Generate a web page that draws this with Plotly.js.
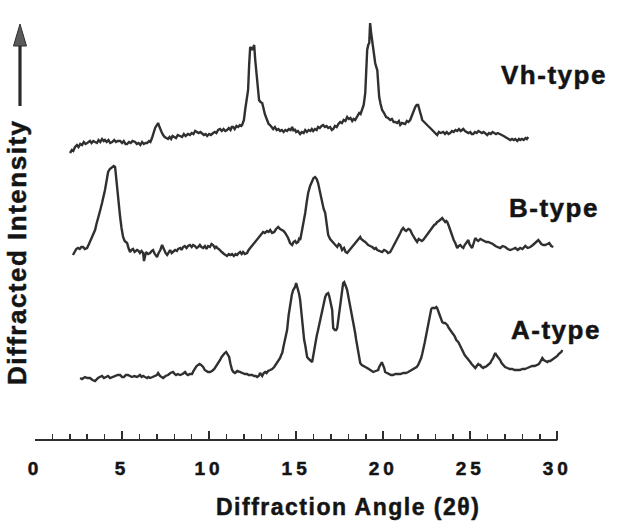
<!DOCTYPE html>
<html>
<head>
<meta charset="utf-8">
<script src="https://cdn.plot.ly/plotly-3.0.1.min.js"></script>
<style>
  html, body { margin: 0; padding: 0; background: #ffffff; }
  #chart { width: 624px; height: 523px; }
  .annotation-text { letter-spacing: 1.5px; stroke: #141414; stroke-width: 0.5px; }
  .xtick text { letter-spacing: 4px; stroke: #141414; stroke-width: 0.5px; }
</style>
</head>
<body>
<div id="chart"></div>
<script>
// ---- data: [2θ (degrees), intensity (arbitrary units above the pattern's own baseline)] ----
const vhPattern = [[2.01,7],[2.12,10],[2.2,9],[2.3,13],[2.41,15],[2.5,13],[2.6,16],[2.7,15],[2.8,18],[2.9,16],[3.0,17],[3.16,19],[3.25,17],[3.35,19],[3.45,18],[3.56,17],[3.65,20],[3.75,18],[3.85,21],[3.95,19],[4.02,20],[4.12,18],[4.22,20],[4.32,17],[4.43,18],[4.55,20],[4.65,18],[4.75,19],[4.89,19],[5.0,17],[5.1,19],[5.2,16],[5.29,16],[5.4,18],[5.5,17],[5.6,19],[5.75,18],[5.85,16],[5.95,17],[6.05,15],[6.15,18],[6.25,16],[6.35,17],[6.44,17],[6.55,19],[6.63,18],[6.72,22],[6.8,27],[6.9,32],[7.0,35],[7.07,37],[7.13,34],[7.18,31],[7.27,28],[7.36,25],[7.45,23],[7.55,22],[7.64,21],[7.73,23],[7.82,21],[7.9,24],[7.99,23],[8.1,22],[8.2,25],[8.33,24],[8.45,23],[8.55,26],[8.65,24],[8.79,26],[8.9,25],[9.0,27],[9.1,26],[9.2,29],[9.31,28],[9.4,27],[9.5,28],[9.6,26],[9.7,25],[9.8,26],[9.89,24],[10.0,26],[10.1,25],[10.23,27],[10.33,28],[10.42,27],[10.52,30],[10.63,31],[10.73,29],[10.83,31],[10.93,29],[11.03,30],[11.13,32],[11.23,30],[11.3,33],[11.38,33],[11.47,31],[11.57,34],[11.67,33],[11.77,35],[11.85,34],[11.9,35],[12.0,40],[12.07,50],[12.17,62],[12.24,70],[12.3,95],[12.36,113],[12.42,112],[12.47,110],[12.53,112],[12.59,115],[12.65,100],[12.7,90],[12.76,83],[12.82,70],[12.87,60],[12.95,58],[13.05,57],[13.12,52],[13.2,46],[13.33,40],[13.42,36],[13.5,35],[13.6,32],[13.68,31],[13.78,33],[13.88,30],[13.98,31],[14.08,29],[14.18,30],[14.28,28],[14.38,30],[14.48,29],[14.58,31],[14.68,30],[14.77,33],[14.85,29],[14.92,31],[15.0,28],[15.1,29],[15.23,26],[15.33,28],[15.43,27],[15.52,30],[15.62,28],[15.72,30],[15.82,29],[15.9,31],[15.98,29],[16.08,31],[16.18,30],[16.26,33],[16.36,32],[16.46,34],[16.55,35],[16.65,33],[16.75,34],[16.84,32],[16.95,33],[17.05,30],[17.13,31],[17.23,34],[17.33,33],[17.43,36],[17.53,38],[17.63,37],[17.73,40],[17.83,39],[17.93,43],[18.03,41],[18.12,42],[18.22,39],[18.3,41],[18.39,40],[18.5,44],[18.62,47],[18.7,46],[18.79,50],[18.88,55],[18.97,67],[19.02,90],[19.08,110],[19.14,115],[19.2,117],[19.23,130],[19.25,137],[19.3,128],[19.37,117],[19.45,106],[19.54,97],[19.6,93],[19.66,90],[19.72,75],[19.77,63],[19.85,56],[19.94,50],[20.05,47],[20.17,43],[20.28,42],[20.4,40],[20.5,41],[20.6,38],[20.69,38],[20.8,37],[20.9,39],[20.98,35],[21.08,37],[21.18,36],[21.26,36],[21.36,39],[21.45,38],[21.55,40],[21.63,44],[21.72,48],[21.78,52],[21.84,53],[21.92,55],[22.01,55],[22.07,51],[22.13,48],[22.2,43],[22.24,40],[22.35,38],[22.47,35],[22.58,34],[22.7,32],[22.8,30],[22.9,28],[23.0,27],[23.1,25],[23.2,28],[23.3,27],[23.45,28],[23.55,26],[23.65,28],[23.75,26],[23.85,27],[23.95,29],[24.05,28],[24.15,30],[24.25,29],[24.35,31],[24.45,29],[24.6,31],[24.7,29],[24.8,28],[24.89,27],[25.0,28],[25.08,26],[25.17,26],[25.27,28],[25.37,27],[25.47,29],[25.57,28],[25.67,27],[25.77,28],[25.88,26],[25.98,25],[26.08,27],[26.18,26],[26.28,28],[26.38,27],[26.48,26],[26.58,27],[26.72,26],[26.82,25],[26.92,24],[27.01,23],[27.1,22],[27.2,21],[27.3,20],[27.4,21],[27.5,20],[27.59,21],[27.7,19],[27.8,21],[27.87,20],[27.97,21],[28.07,20],[28.17,22],[28.25,21],[28.33,23]];

const bPattern = [[2.18,15],[2.28,18],[2.37,21],[2.47,22],[2.57,21],[2.66,23],[2.76,23],[2.86,21],[2.99,22],[3.1,26],[3.2,30],[3.28,33],[3.36,37],[3.45,40],[3.53,46],[3.62,53],[3.72,58],[3.85,67],[3.93,72],[4.02,80],[4.1,88],[4.2,98],[4.3,101],[4.43,103],[4.52,104],[4.6,103],[4.66,92],[4.71,80],[4.8,66],[4.89,53],[4.97,42],[5.06,33],[5.15,29],[5.29,27],[5.37,22],[5.46,18],[5.54,20],[5.63,21],[5.72,18],[5.86,20],[5.95,19],[6.03,17],[6.12,19],[6.21,17],[6.26,9],[6.32,16],[6.38,18],[6.5,16],[6.61,17],[6.7,19],[6.78,20],[6.88,16],[7.01,13],[7.1,17],[7.2,20],[7.3,25],[7.36,22],[7.41,20],[7.5,17],[7.59,15],[7.68,18],[7.76,20],[7.85,17],[7.93,18],[8.05,20],[8.15,19],[8.22,21],[8.35,22],[8.42,20],[8.51,23],[8.6,24],[8.7,22],[8.79,24],[8.9,25],[9.0,23],[9.08,25],[9.18,24],[9.28,22],[9.37,23],[9.47,25],[9.56,23],[9.66,22],[9.76,24],[9.85,21],[9.94,24],[10.05,23],[10.14,26],[10.23,25],[10.33,22],[10.4,24],[10.46,22],[10.55,21],[10.63,20],[10.73,18],[10.86,16],[10.95,15],[11.03,14],[11.13,16],[11.22,15],[11.32,16],[11.42,14],[11.52,16],[11.61,15],[11.7,17],[11.78,18],[11.87,16],[11.95,18],[12.05,16],[12.18,17],[12.27,20],[12.36,22],[12.47,24],[12.59,26],[12.68,28],[12.76,30],[12.85,32],[12.93,34],[13.02,36],[13.1,38],[13.2,37],[13.33,39],[13.42,38],[13.51,40],[13.62,37],[13.74,38],[13.85,41],[13.97,43],[14.08,41],[14.2,40],[14.28,39],[14.37,37],[14.45,35],[14.54,32],[14.65,27],[14.77,25],[14.85,28],[14.94,29],[15.02,27],[15.11,28],[15.17,31],[15.23,30],[15.32,38],[15.4,45],[15.46,51],[15.52,57],[15.6,67],[15.69,77],[15.8,84],[15.92,90],[16.0,92],[16.09,93],[16.18,91],[16.26,87],[16.38,77],[16.49,67],[16.58,61],[16.67,57],[16.75,45],[16.84,35],[16.95,31],[17.07,28],[17.2,26],[17.36,23],[17.45,26],[17.53,25],[17.64,20],[17.75,22],[17.84,18],[17.93,17],[18.02,19],[18.1,21],[18.2,23],[18.28,25],[18.4,27],[18.51,29],[18.6,31],[18.68,33],[18.74,31],[18.79,30],[18.88,29],[18.97,28],[19.05,26],[19.14,25],[19.25,24],[19.37,23],[19.5,21],[19.58,22],[19.66,20],[19.8,19],[19.94,18],[20.05,20],[20.17,19],[20.28,17],[20.4,18],[20.5,21],[20.63,25],[20.72,28],[20.8,30],[20.9,34],[20.98,37],[21.06,40],[21.15,42],[21.24,40],[21.32,39],[21.44,41],[21.55,40],[21.66,36],[21.78,32],[21.87,30],[21.95,28],[22.04,31],[22.13,30],[22.22,29],[22.3,30],[22.42,33],[22.53,36],[22.62,38],[22.7,40],[22.82,43],[22.93,45],[23.02,46],[23.1,48],[23.2,49],[23.28,50],[23.39,52],[23.47,50],[23.56,48],[23.62,49],[23.68,48],[23.77,44],[23.85,40],[23.92,36],[23.97,33],[24.05,30],[24.14,27],[24.2,24],[24.25,22],[24.34,24],[24.43,25],[24.52,23],[24.6,22],[24.68,25],[24.77,27],[24.83,29],[24.89,30],[24.95,26],[25.0,24],[25.06,23],[25.11,22],[25.2,28],[25.29,32],[25.38,30],[25.46,29],[25.58,31],[25.69,30],[25.8,29],[25.92,28],[26.03,28],[26.15,27],[26.3,26],[26.44,24],[26.58,23],[26.72,22],[26.86,24],[27.01,23],[27.15,21],[27.3,20],[27.45,21],[27.59,22],[27.73,20],[27.87,22],[28.0,21],[28.16,24],[28.3,22],[28.45,23],[28.6,25],[28.74,27],[28.82,28],[28.91,30],[29.0,28],[29.08,26],[29.2,25],[29.31,25],[29.43,26],[29.54,27],[29.65,24],[29.77,23]];

const aPattern = [[2.59,12],[2.7,11],[2.87,13],[3.0,12],[3.16,12],[3.3,10],[3.45,9],[3.53,11],[3.62,12],[3.72,13],[3.85,14],[3.96,12],[4.08,13],[4.2,14],[4.31,12],[4.45,13],[4.6,14],[4.75,15],[4.89,15],[5.0,13],[5.11,13],[5.22,15],[5.34,15],[5.45,14],[5.57,13],[5.7,14],[5.86,13],[5.95,14],[6.03,15],[6.12,13],[6.21,14],[6.32,13],[6.44,12],[6.52,13],[6.61,12],[6.75,13],[6.9,14],[7.0,15],[7.07,17],[7.13,15],[7.18,14],[7.27,13],[7.36,12],[7.5,14],[7.64,15],[7.78,17],[7.93,18],[8.02,16],[8.1,15],[8.2,16],[8.33,15],[8.48,16],[8.62,18],[8.7,16],[8.79,15],[8.9,16],[9.02,16],[9.1,19],[9.2,22],[9.28,24],[9.37,25],[9.45,26],[9.54,25],[9.6,24],[9.66,23],[9.75,20],[9.83,19],[9.94,18],[10.05,18],[10.17,19],[10.3,21],[10.46,25],[10.55,27],[10.63,30],[10.72,33],[10.8,35],[10.9,37],[10.98,38],[11.06,36],[11.15,33],[11.23,26],[11.32,20],[11.4,18],[11.49,17],[11.62,19],[11.78,18],[11.87,17],[11.95,17],[12.06,16],[12.18,16],[12.27,15],[12.36,15],[12.47,15],[12.59,14],[12.68,14],[12.76,13],[12.85,14],[12.93,17],[13.0,15],[13.05,14],[13.14,17],[13.22,18],[13.3,17],[13.39,19],[13.51,20],[13.62,21],[13.74,23],[13.82,25],[13.91,27],[14.0,30],[14.08,32],[14.14,35],[14.2,37],[14.28,44],[14.37,50],[14.43,55],[14.48,60],[14.57,75],[14.66,87],[14.75,95],[14.83,100],[14.9,102],[14.94,103],[15.0,107],[15.05,104],[15.11,100],[15.17,96],[15.23,90],[15.31,75],[15.4,57],[15.46,50],[15.52,45],[15.57,38],[15.63,33],[15.72,31],[15.8,30],[15.86,29],[15.92,28],[16.0,36],[16.09,47],[16.18,54],[16.26,60],[16.32,65],[16.38,70],[16.46,78],[16.55,85],[16.62,90],[16.67,93],[16.75,96],[16.84,97],[16.9,94],[16.95,90],[17.01,86],[17.07,80],[17.1,70],[17.13,62],[17.22,60],[17.3,60],[17.36,62],[17.45,75],[17.53,87],[17.62,98],[17.7,107],[17.76,108],[17.82,106],[17.87,103],[17.93,100],[18.02,92],[18.1,85],[18.16,79],[18.22,73],[18.3,65],[18.39,57],[18.45,50],[18.51,43],[18.6,34],[18.68,27],[18.77,25],[18.85,24],[18.96,23],[19.08,22],[19.17,21],[19.25,20],[19.34,19],[19.43,18],[19.57,19],[19.71,20],[19.77,23],[19.83,25],[19.9,27],[19.94,27],[20.0,25],[20.06,22],[20.11,18],[20.22,17],[20.34,16],[20.45,15],[20.57,15],[20.7,16],[20.86,16],[21.0,16],[21.15,17],[21.3,17],[21.44,18],[21.55,19],[21.67,20],[21.75,21],[21.84,22],[21.92,23],[22.01,25],[22.1,28],[22.18,32],[22.24,36],[22.3,40],[22.38,47],[22.47,55],[22.53,61],[22.59,67],[22.65,73],[22.7,78],[22.76,81],[22.82,82],[22.9,82],[22.99,82],[23.05,83],[23.1,82],[23.18,78],[23.28,74],[23.33,71],[23.39,68],[23.47,67],[23.56,67],[23.62,66],[23.68,65],[23.77,62],[23.85,60],[23.93,58],[24.02,57],[24.1,54],[24.2,50],[24.25,49],[24.31,48],[24.4,45],[24.48,42],[24.54,40],[24.6,38],[24.68,35],[24.77,33],[24.88,30],[25.0,28],[25.08,26],[25.17,24],[25.23,23],[25.29,22],[25.37,24],[25.46,26],[25.52,25],[25.57,25],[25.66,23],[25.75,22],[25.8,23],[25.86,23],[25.95,24],[26.03,25],[26.1,26],[26.15,27],[26.24,30],[26.32,32],[26.38,35],[26.44,37],[26.5,35],[26.55,34],[26.63,32],[26.72,30],[26.8,27],[26.9,25],[27.0,23],[27.13,22],[27.27,21],[27.41,21],[27.55,20],[27.7,20],[27.85,20],[27.99,21],[28.13,21],[28.28,22],[28.42,23],[28.56,24],[28.7,24],[28.85,25],[28.94,26],[29.02,28],[29.08,30],[29.14,32],[29.22,30],[29.31,29],[29.37,28],[29.43,28],[29.52,29],[29.6,29],[29.68,30],[29.77,31],[29.88,33],[30.0,34],[30.08,36],[30.17,37],[30.23,38],[30.29,40]];

const tickValues = [0, 5, 10, 15, 20, 25, 30];
const tickLabels = ["0", "5", "10", "15", "20", "25", "30"];
const patternNames = ["Vh-type", "B-type", "A-type"];
const xTitle = "Diffraction Angle (2θ)";
const yTitle = "Diffracted Intensity";

// ---- vertical stacking of the three patterns ----
const offsets = [280, 170, 50];
const patterns = [vhPattern, bPattern, aPattern];

// ---- pixel helpers for decorations (labels, arrow) ----
const L = 35, PLOT_W = 530.7, PLOT_H = 440;
const px = x => (x - L) / PLOT_W;
const py = y => (PLOT_H - y) / PLOT_H;

const lineStyle = { color: '#303030', width: 2.4 };
const traces = patterns.map((p, i) => ({
  type: 'scatter', mode: 'lines', name: patternNames[i],
  x: p.map(d => d[0]),
  y: p.map(d => d[1] + offsets[i]),
  line: lineStyle, hoverinfo: 'skip'
}));

const boldFont = (size) => ({ family: 'Liberation Sans, Arial, sans-serif', size: size, color: '#141414', weight: 'bold' });

const layout = {
  width: 624, height: 523,
  margin: { l: L, r: 624 - L - PLOT_W, t: 0, b: 523 - PLOT_H, pad: 0 },
  paper_bgcolor: '#ffffff', plot_bgcolor: '#ffffff',
  showlegend: false,
  xaxis: {
    range: [0, 30.5], showgrid: false, zeroline: false, showline: false,
    tickmode: 'array', tickvals: tickValues, ticktext: tickLabels,
    ticks: 'inside', ticklen: 9, tickwidth: 1.8, tickcolor: '#2e2e2e',
    ticklabelstandoff: 15,
    tickfont: boldFont(19),
    minor: { dtick: 1, tick0: 0, ticks: 'inside', ticklen: 6, tickwidth: 1.5, tickcolor: '#2e2e2e', showgrid: false }
  },
  yaxis: { range: [0, PLOT_H], visible: false, showgrid: false, zeroline: false },
  shapes: [
    { type: 'line', xref: 'x', yref: 'paper', x0: 0, x1: 30, y0: 0, y1: 0, line: { color: '#2e2e2e', width: 2 } },
    { type: 'line', xref: 'paper', yref: 'paper', x0: px(20), x1: px(20), y0: py(106), y1: py(44), line: { color: '#2a2a2a', width: 3.2 } },
    { type: 'path', xref: 'paper', yref: 'paper',
      path: `M ${px(13.5)},${py(46)} L ${px(26.5)},${py(46)} L ${px(20)},${py(24)} Z`,
      fillcolor: '#5a5a5a', line: { color: '#2e2e2e', width: 1 } }
  ],
  annotations: [
    { text: patternNames[0], xref: 'paper', yref: 'paper', x: px(499), y: py(75), xanchor: 'left', yanchor: 'middle', showarrow: false, font: boldFont(26) },
    { text: patternNames[1], xref: 'paper', yref: 'paper', x: px(507), y: py(208), xanchor: 'left', yanchor: 'middle', showarrow: false, font: boldFont(26) },
    { text: patternNames[2], xref: 'paper', yref: 'paper', x: px(509), y: py(330), xanchor: 'left', yanchor: 'middle', showarrow: false, font: boldFont(26) },
    { text: xTitle, xref: 'paper', yref: 'paper', x: px(348), y: py(507), xanchor: 'center', yanchor: 'middle', showarrow: false, font: boldFont(23) },
    { text: yTitle, xref: 'paper', yref: 'paper', x: px(17), y: py(252), xanchor: 'center', yanchor: 'middle', textangle: -90, showarrow: false, font: boldFont(26) }
  ]
};

Plotly.newPlot('chart', traces, layout, { staticPlot: true, displayModeBar: false });
</script>
</body>
</html>
